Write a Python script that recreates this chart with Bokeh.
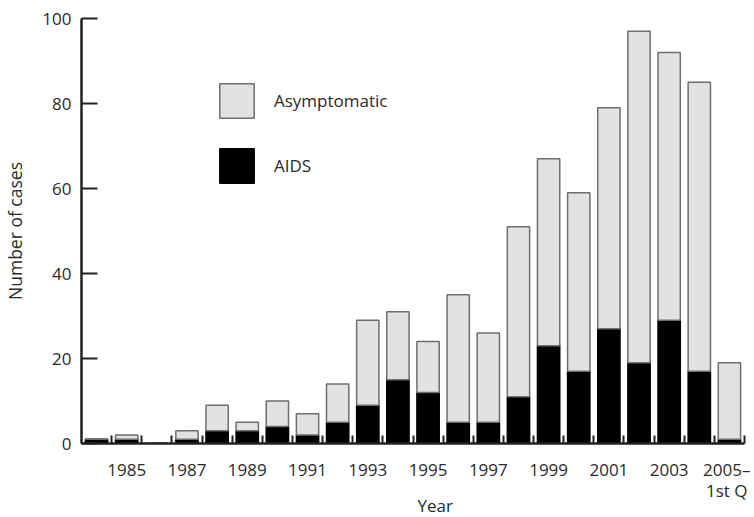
from bokeh.plotting import figure
from bokeh.models import FixedTicker, Legend, LegendItem, Title, Range1d
from bokeh.embed import file_html
from bokeh.resources import INLINE

years = list(range(1984, 2006))
aids = [1, 1, 0, 1, 3, 3, 4, 2, 5, 9, 15, 12, 5, 5, 11, 23, 17, 27, 19, 29, 17, 1]
asymptomatic = [0, 1, 0, 2, 6, 2, 6, 5, 9, 20, 16, 12, 30, 21, 40, 44, 42, 52, 78, 63, 68, 18]
label_years = list(range(1985, 2006, 2))
y_ticks = [0, 20, 40, 60, 80, 100]

FONT = "Open Sans"
TXT = "#2a2a2a"
GRAY = "#e2e2e2"
GRAY_LINE = "#6e6e6e"

data = dict(year=years, AIDS=aids, Asymptomatic=asymptomatic)

p = figure(width=750, height=517, output_backend="svg", toolbar_location=None,
           x_range=Range1d(1983.5, 2005.5), y_range=Range1d(0, 100),
           min_border_left=81, min_border_top=18, min_border_right=6, min_border_bottom=74)
p.outline_line_color = None
p.grid.visible = False

r = p.vbar_stack(["AIDS", "Asymptomatic"], x="year", width=0.74, source=data,
                 fill_color=["black", GRAY], line_color=["black", GRAY_LINE], line_width=1.5)

# x axis
xa = p.xaxis[0]
xa.ticker = FixedTicker(ticks=label_years, minor_ticks=[y + 0.5 for y in years])
xa.major_label_overrides = {2005: "2005\u2013\n1st Q"}
xa.major_tick_in = 0
xa.major_tick_out = 0
xa.minor_tick_in = 8
xa.minor_tick_out = 0
xa.minor_tick_line_width = 2
xa.minor_tick_line_color = "#222222"
xa.axis_line_width = 2.5
xa.axis_line_color = "#222222"
xa.major_label_text_font = FONT
xa.major_label_text_font_size = "17px"
xa.major_label_text_color = TXT
xa.major_label_text_line_height = 0.95
xa.major_label_standoff = 14

# y axis
ya = p.yaxis[0]
ya.ticker = FixedTicker(ticks=y_ticks)
ya.minor_tick_line_color = None
ya.major_tick_in = 16
ya.major_tick_out = 0
ya.major_tick_line_width = 2
ya.major_tick_line_color = "#222222"
ya.axis_line_width = 2.5
ya.axis_line_color = "#222222"
ya.major_label_text_font = FONT
ya.major_label_text_font_size = "17px"
ya.major_label_text_color = TXT
ya.major_label_standoff = 10
ya.axis_label = "Number of cases"
ya.axis_label_text_font = FONT
ya.axis_label_text_font_size = "17.5px"
ya.axis_label_text_font_style = "normal"
ya.axis_label_text_color = TXT
ya.axis_label_standoff = 12

p.add_layout(Title(text="Year", align="left", offset=336, text_font=FONT,
                   text_font_size="17px", text_font_style="normal", text_color=TXT,
                   text_line_height=1.0, vertical_align="top", standoff=-24), "below")

legend = Legend(items=[LegendItem(label="Asymptomatic", renderers=[r[1]]),
                       LegendItem(label="AIDS", renderers=[r[0]])],
                location=(134, 256), padding=0, margin=0, spacing=22,
                glyph_width=43, glyph_height=43, label_standoff=16,
                label_text_font=FONT, label_text_font_size="17px", label_text_color=TXT,
                border_line_color=None, background_fill_alpha=0)
p.add_layout(legend)

open("out.html", "w").write(file_html(p, INLINE))
